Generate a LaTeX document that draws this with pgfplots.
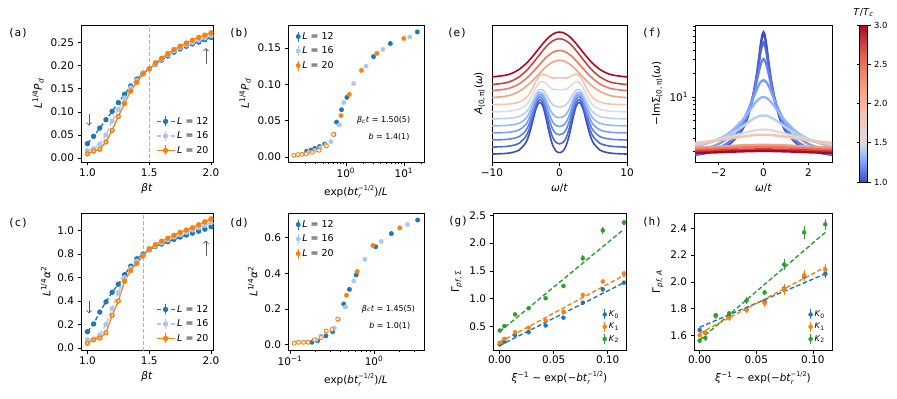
\documentclass[border=0pt]{standalone}
\usepackage{fontspec}
\setmainfont{DejaVu Sans}
\newfontfamily\monofont{DejaVu Sans Mono}
\usepackage{pgfplots}
\usepackage{pgfplotstable}
\pgfplotsset{compat=1.18}
\usetikzlibrary{arrows.meta}
\newcommand{\fs}[1]{\fontsize{#1}{#1}\selectfont}
\newcommand{\btr}{\textit{bt}\makebox[0pt][l]{\raisebox{-0.3em}{\fs{6.5}\textit{r}}}\raisebox{0.5em}{\fs{6.5}−1/2}}
\definecolor{tblue}{HTML}{1F77B4}
\definecolor{tlblue}{HTML}{AEC7E8}
\definecolor{torange}{HTML}{FF7F0E}
\definecolor{tgreen}{HTML}{2CA02C}
\definecolor{cA}{RGB}{59,76,192}
\definecolor{cB}{RGB}{77,104,215}
\definecolor{cC}{RGB}{98,130,234}
\definecolor{cD}{RGB}{122,157,248}
\definecolor{cE}{RGB}{147,181,254}
\definecolor{cF}{RGB}{184,208,249}
\definecolor{cG}{RGB}{221,220,220}
\definecolor{cH}{RGB}{245,196,172}
\definecolor{cI}{RGB}{244,160,130}
\definecolor{cJ}{RGB}{232,120,95}
\definecolor{cK}{RGB}{208,64,58}
\definecolor{cL}{RGB}{180,4,38}
\pgfplotsset{
  colormap={cw}{rgb255(0cm)=(59,76,192) rgb255(1cm)=(90,120,228) rgb255(2cm)=(123,159,249) rgb255(3cm)=(170,199,253) rgb255(4cm)=(221,220,220) rgb255(7cm)=(245,196,172) rgb255(10cm)=(244,154,123) rgb255(13cm)=(222,96,77) rgb255(16cm)=(180,4,38)},
  panel/.style={scale only axis, anchor=north west, tick align=outside, tick pos=left,
    major tick length=3.5bp, minor tick length=2bp,
    every tick/.style={black,line width=0.6bp}, axis line style={line width=0.7bp},
    tick label style={font=\fs{10.5}}, label style={font=\fs{10.5}},
    legend cell align=left,
    legend style={draw=none, fill=none, font=\fs{9.5}, inner sep=1bp, row sep=2bp}},
  errleg/.style={legend image code/.code={%
    \draw[mark repeat=2,mark phase=2,##1] plot coordinates {(0bp,0bp) (9bp,0bp) (18bp,0bp)};
    \draw[##1,solid] (9bp,-5bp) -- (9bp,5bp);}},
  errlegm/.style={legend image code/.code={%
    \draw[##1,solid,line width=1.1bp] (4bp,-5bp) -- (4bp,5bp);
    \draw[##1] plot coordinates {(4bp,0bp)};}},
  ebar/.style={error bars/.cd, y dir=both, y explicit, error mark=none, error bar style={line width=1.1bp}},
  lowlab/.style={xlabel style={yshift=-1bp}, xticklabel style={yshift=1bp}},
}

\pgfplotstableread{
w b1 b2 b3 b4 b5 b6 g ps s ro r dr
-10 7.9 14.8 21.9 28.9 35.9 42.9 49.9 57.0 64.0 71.0 77.0 84.6
-8 8.5 15.4 22.4 29.3 36.3 43.3 50.3 57.4 65.4 72.5 78.7 86.3
-7 9.5 16.4 23.3 30.1 37.0 43.9 51.0 58.1 67.1 74.4 80.9 88.4
-6 11.8 18.5 25.2 31.9 38.5 45.2 52.5 59.5 70.2 77.6 84.6 92.0
-5 19.1 25.2 31.2 37.2 43.1 49.3 56.3 63.4 74.8 82.6 90.3 97.6
-4.5 27.3 32.6 38.0 43.3 48.4 53.8 60.6 67.4 77.7 85.7 93.8 101.0
-4 39.7 44.0 48.2 52.2 56.2 60.5 67.0 73.5 80.9 89.2 97.8 104.9
-3.5 52.6 55.8 58.9 61.8 64.5 67.7 74.0 80.3 84.4 92.9 102.0 109.1
-3 59.3 62.0 64.7 67.0 69.2 72.0 78.7 85.3 87.9 96.7 106.3 113.3
-2.5 56.2 59.5 62.6 65.5 68.2 71.9 80.0 87.3 91.4 100.4 110.6 117.5
-2 43.8 48.5 53.3 57.6 61.9 67.4 78.0 86.6 94.6 103.9 114.6 121.3
-1.5 28.3 34.8 41.4 47.4 53.7 61.4 74.7 84.6 97.4 106.8 117.9 124.6
-1 16.5 24.3 32.4 39.7 47.6 57.0 72.4 83.5 99.5 109.1 120.5 127.1
-0.5 10.8 19.3 28.2 36.2 44.9 55.2 72.0 83.7 100.8 110.5 122.1 128.8
0 9.3 18.0 27.1 35.3 44.1 54.8 72.0 83.9 101.3 111.0 122.7 129.3
0.5 10.8 19.3 28.2 36.2 44.9 55.2 72.0 83.7 100.8 110.5 122.1 128.8
1 16.5 24.3 32.4 39.7 47.6 57.0 72.4 83.5 99.5 109.1 120.5 127.1
1.5 28.3 34.8 41.4 47.4 53.7 61.4 74.7 84.6 97.4 106.8 117.9 124.6
2 43.8 48.5 53.3 57.6 61.9 67.4 78.0 86.6 94.6 103.9 114.6 121.3
2.5 56.2 59.5 62.6 65.5 68.2 71.9 80.0 87.3 91.4 100.4 110.6 117.5
3 59.3 62.0 64.7 67.0 69.2 72.0 78.7 85.3 87.9 96.7 106.3 113.3
3.5 52.6 55.8 58.9 61.8 64.5 67.7 74.0 80.3 84.4 92.9 102.0 109.1
4 39.7 44.0 48.2 52.2 56.2 60.5 67.0 73.5 80.9 89.2 97.8 104.9
4.5 27.3 32.6 38.0 43.3 48.4 53.8 60.6 67.4 77.7 85.7 93.8 101.0
5 19.1 25.2 31.2 37.2 43.1 49.3 56.3 63.4 74.8 82.6 90.3 97.6
6 11.8 18.5 25.2 31.9 38.5 45.2 52.5 59.5 70.2 77.6 84.6 92.0
7 9.5 16.4 23.3 30.1 37.0 43.9 51.0 58.1 67.1 74.4 80.9 88.4
8 8.5 15.4 22.4 29.3 36.3 43.3 50.3 57.4 65.4 72.5 78.7 86.3
10 7.9 14.8 21.9 28.9 35.9 42.9 49.9 57.0 64.0 71.0 77.0 84.6
}\tabE

\pgfplotstableread{
w b1 b2 b3 b4 b5 b6 g ps s ro r dr
-3.2 1.82 1.84 1.87 2.02 2.34 2.42 2.54 2.59 2.26 2.14 2.02 1.92
-3 1.84 1.86 1.89 2.05 2.38 2.45 2.56 2.61 2.27 2.15 2.03 1.93
-2.5 1.94 1.97 2.01 2.22 2.57 2.62 2.68 2.69 2.30 2.175 2.05 1.95
-2 2.13 2.18 2.24 2.52 2.90 2.88 2.84 2.80 2.33 2.20 2.07 1.97
-1.5 2.53 2.62 2.71 3.13 3.52 3.33 3.07 2.94 2.37 2.23 2.10 2.00
-1 3.65 3.83 3.99 4.60 4.82 4.08 3.38 3.10 2.41 2.27 2.12 2.02
-0.75 5.15 5.43 5.59 6.2 5.95 4.59 3.54 3.18 2.43 2.28 2.13 2.03
-0.5 9.1 9.45 9.25 9.0 7.51 5.15 3.69 3.24 2.44 2.29 2.14 2.04
-0.4 12.6 12.8 12.0 10.6 8.21 5.36 3.74 3.26 2.44 2.29 2.14 2.04
-0.3 18.9 18.5 16.05 12.5 8.88 5.54 3.78 3.28 2.45 2.30 2.15 2.05
-0.2 30.9 28.1 21.6 14.4 9.46 5.68 3.81 3.29 2.45 2.30 2.15 2.05
-0.1 51.6 41.7 27.6 15.8 9.86 5.79 3.84 3.30 2.45 2.30 2.15 2.05
0 67.0 50.0 30.5 16.4 10.0 5.8 3.84 3.30 2.45 2.30 2.15 2.05
0.1 51.6 41.7 27.6 15.8 9.86 5.79 3.84 3.30 2.45 2.30 2.15 2.05
0.2 30.9 28.1 21.6 14.4 9.46 5.68 3.81 3.29 2.45 2.30 2.15 2.05
0.3 18.9 18.5 16.05 12.5 8.88 5.54 3.78 3.28 2.45 2.30 2.15 2.05
0.4 12.6 12.8 12.0 10.6 8.21 5.36 3.74 3.26 2.44 2.29 2.14 2.04
0.5 9.1 9.45 9.25 9.0 7.51 5.15 3.69 3.24 2.44 2.29 2.14 2.04
0.75 5.15 5.43 5.59 6.2 5.95 4.59 3.54 3.18 2.43 2.28 2.13 2.03
1 3.65 3.83 3.99 4.60 4.82 4.08 3.38 3.10 2.41 2.27 2.12 2.02
1.5 2.53 2.62 2.71 3.13 3.52 3.33 3.07 2.94 2.37 2.23 2.10 2.00
2 2.13 2.18 2.24 2.52 2.90 2.88 2.84 2.80 2.33 2.20 2.07 1.97
2.5 1.94 1.97 2.01 2.22 2.57 2.62 2.68 2.69 2.30 2.175 2.05 1.95
3 1.84 1.86 1.89 2.05 2.38 2.45 2.56 2.61 2.27 2.15 2.03 1.93
3.2 1.82 1.84 1.87 2.02 2.34 2.42 2.54 2.59 2.26 2.14 2.02 1.92
}\tabF

\begin{document}
\begin{tikzpicture}
\useasboundingbox (0,0) rectangle (897bp,-399bp);

% ---------------- (a)
\begin{axis}[panel, at={(81bp,-25bp)}, width=132bp, height=137bp,
  xmin=0.948, xmax=2.016, ymin=-0.0086, ymax=0.288,
  xtick={1,1.5,2}, xticklabels={1.0,1.5,2.0},
  ytick={0,0.05,0.1,0.15,0.2,0.25}, yticklabels={0.00,0.05,0.10,0.15,0.20,0.25},
  xlabel={\textit{βt}}, ylabel={\textit{L}\textsuperscript{1/4}\textit{P}\textsubscript{\textit{d}}},
  legend style={at={(rel axis cs:0.99,0.03)}, anchor=south east}]
\addplot[forget plot, color=black!30, dash pattern=on 4bp off 2bp, line width=1bp] coordinates {(1.5,-1) (1.5,1)};
\addplot[tblue, line width=1.3bp, dash pattern=on 4.5bp off 2.5bp, mark=*, mark size=2bp, mark options={solid}, errleg] coordinates {
(1.00,.031)(1.05,.047)(1.10,.065)(1.15,.083)(1.20,.101)(1.25,.120)(1.30,.138)(1.35,.156)(1.40,.171)(1.45,.184)(1.50,.193)(1.55,.203)(1.60,.212)(1.65,.221)(1.70,.229)(1.75,.236)(1.80,.242)(1.85,.247)(1.90,.251)(1.95,.256)(2.00,.261)};
\addlegendentry{\textit{L} = 12}
\addplot[tlblue, line width=1.3bp, dash pattern=on 4.5bp off 2.5bp, mark=*, mark size=2bp, mark options={solid}, errleg] coordinates {
(1.00,.016)(1.05,.020)(1.10,.030)(1.15,.050)(1.20,.080)(1.25,.105)(1.30,.130)(1.35,.152)(1.40,.168)(1.45,.183)(1.50,.193)(1.55,.204)(1.60,.214)(1.65,.224)(1.70,.232)(1.75,.239)(1.80,.245)(1.85,.250)(1.90,.255)(1.95,.260)(2.00,.265)};
\addlegendentry{\textit{L} = 16}
\addplot[torange, line width=1.3bp, mark=*, mark size=2bp, errleg] coordinates {
(1.00,.009)(1.05,.015)(1.10,.019)(1.15,.035)(1.20,.060)(1.25,.090)(1.30,.118)(1.35,.145)(1.40,.164)(1.45,.182)(1.50,.193)(1.55,.206)(1.60,.216)(1.65,.226)(1.70,.235)(1.75,.242)(1.80,.249)(1.85,.255)(1.90,.261)(1.95,.266)(2.00,.271)};
\addlegendentry{\textit{L} = 20}
\addplot[forget plot, only marks, mark=*, mark size=1.9bp, mark options={draw=torange, fill=white, line width=0.9bp}] coordinates {
(1.00,.009)(1.05,.015)(1.10,.019)(1.15,.035)(1.20,.060)(1.25,.090)};
\draw[-{Straight Barb[length=2.5bp]}, black!65, line width=0.7bp] (axis cs:1.013,0.095) -- (axis cs:1.013,0.070);
\draw[-{Straight Barb[length=2.5bp]}, black!65, line width=0.7bp] (axis cs:1.96,0.204) -- (axis cs:1.96,0.238);
\end{axis}

% ---------------- (b)
\begin{axis}[panel, lowlab, xmode=log, at={(288bp,-25bp)}, width=136bp, height=137bp,
  xmin=0.1, xmax=22.3, ymin=-0.0069, ymax=0.1815,
  xtick={1,10}, xticklabels={10\textsuperscript{0},10\textsuperscript{1}},
  minor xtick={0.2,0.3,0.4,0.5,0.6,0.7,0.8,0.9,2,3,4,5,6,7,8,9,20},
  ytick={0,0.05,0.1,0.15}, yticklabels={0.00,0.05,0.10,0.15},
  xlabel={exp(\btr)/\textit{L}}, ylabel={\textit{L}\textsuperscript{1/4}\textit{P}\textsubscript{\textit{d}}},
  legend style={at={(rel axis cs:0.05,0.97)}, anchor=north west}]
\addplot[tblue, only marks, mark=*, mark size=2.2bp, errlegm] coordinates {
(0.21,.0080)(0.25,.0095)(0.29,.0118)(0.35,.0145)(0.43,.0178)(0.62,.031)(0.69,.048)(0.84,.065)(1.04,.082)(3.0,.138)(5.85,.156)(17.1,.172)};
\addlegendentry{\textit{L} = 12}
\addplot[tlblue, only marks, mark=*, mark size=2.2bp, errlegm] coordinates {
(0.23,.0065)(0.29,.009)(0.36,.0125)(0.45,.0165)(0.55,.021)(0.77,.044)(0.92,.075)(1.36,.101)(2.23,.125)(4.36,.148)(12.7,.165)};
\addlegendentry{\textit{L} = 16}
\addplot[torange, only marks, mark=*, mark size=2.2bp, errlegm] coordinates {
(0.82,.057)(1.14,.086)(1.85,.119)(3.43,.1426)(10.0,.163)};
\addlegendentry{\textit{L} = 20}
\addplot[forget plot, only marks, mark=*, mark size=2bp, mark options={draw=torange, fill=white, line width=0.9bp}] coordinates {
(0.126,.0023)(0.148,.0032)(0.173,.0037)(0.206,.0042)(0.262,.0065)(0.343,.0093)(0.46,.0153)(0.61,.031)};
\node[font=\fs{8}] at (axis cs:4.48,0.0505) {\textit{β}\textsubscript{\textit{c}}\textit{t} = 1.50(5)};
\node[font=\fs{8}] at (axis cs:5.55,0.0273) {\textit{b} = 1.4(1)};
\end{axis}

% ---------------- (e)
\begin{axis}[panel, at={(492bp,-25bp)}, width=135bp, height=137bp,
  xmin=-10, xmax=10, ymin=0, ymax=136.3, ytick=\empty,
  xtick={-10,0,10}, xticklabels={−10,0,10},
  xlabel={\textit{ω}/\textit{t}}, ylabel={\textit{A}\textsubscript{(0,\,π)}(\textit{ω})}]
\addplot[cA, line width=1.6bp, smooth] table[x=w,y=b1]{\tabE};
\addplot[cB, line width=1.6bp, smooth] table[x=w,y=b2]{\tabE};
\addplot[cC, line width=1.6bp, smooth] table[x=w,y=b3]{\tabE};
\addplot[cD, line width=1.6bp, smooth] table[x=w,y=b4]{\tabE};
\addplot[cE, line width=1.6bp, smooth] table[x=w,y=b5]{\tabE};
\addplot[cF, line width=1.6bp, smooth] table[x=w,y=b6]{\tabE};
\addplot[cG, line width=1.6bp, smooth] table[x=w,y=g]{\tabE};
\addplot[cH, line width=1.6bp, smooth] table[x=w,y=ps]{\tabE};
\addplot[cI, line width=1.6bp, smooth] table[x=w,y=s]{\tabE};
\addplot[cJ, line width=1.6bp, smooth] table[x=w,y=ro]{\tabE};
\addplot[cK, line width=1.6bp, smooth] table[x=w,y=r]{\tabE};
\addplot[cL, line width=1.6bp, smooth] table[x=w,y=dr]{\tabE};
\end{axis}

% ---------------- (f)
\begin{axis}[panel, ymode=log, at={(695bp,-25bp)}, width=137bp, height=137bp,
  xmin=-3.05, xmax=3.05, ymin=1.48, ymax=83,
  xtick={-2,0,2}, xticklabels={−2,0,2},
  ytick={10}, yticklabels={10\textsuperscript{1}},
  minor ytick={2,3,4,5,6,7,8,9,20,30,40,50,60,70,80},
  xlabel={\textit{ω}/\textit{t}}, ylabel={−ImΣ\textsubscript{(0,\,π)}(\textit{ω})},
  colormap name=cw, colorbar, point meta min=1, point meta max=3,
  colorbar style={at={(parent axis.north east)}, anchor=north west, xshift=19bp,
    scale only axis, width=8bp, height=157bp,
    ytick={1,1.5,2,2.5,3}, yticklabels={1.0,1.5,2.0,2.5,3.0},
    tick align=outside, major tick length=3bp,
    every tick/.style={black,line width=0.6bp}, axis line style={line width=0.6bp},
    tick label style={font=\fs{8.5}},
    title={\textit{T}/\textit{T}\textsubscript{\textit{c}}}, title style={font=\fs{9.5}, yshift=-1bp}}]
\addplot[cA, line width=2.4bp, smooth] table[x=w,y=b1]{\tabF};
\addplot[cB, line width=2.4bp, smooth] table[x=w,y=b2]{\tabF};
\addplot[cC, line width=2.4bp, smooth] table[x=w,y=b3]{\tabF};
\addplot[cD, line width=2.4bp, smooth] table[x=w,y=b4]{\tabF};
\addplot[cE, line width=2.4bp, smooth] table[x=w,y=b5]{\tabF};
\addplot[cF, line width=2.4bp, smooth] table[x=w,y=b6]{\tabF};
\addplot[cG, line width=2.4bp, smooth] table[x=w,y=g]{\tabF};
\addplot[cH, line width=2.4bp, smooth] table[x=w,y=ps]{\tabF};
\addplot[cI, line width=2.4bp, smooth] table[x=w,y=s]{\tabF};
\addplot[cJ, line width=2.4bp, smooth] table[x=w,y=ro]{\tabF};
\addplot[cK, line width=2.4bp, smooth] table[x=w,y=r]{\tabF};
\addplot[cL, line width=2.4bp, smooth] table[x=w,y=dr]{\tabF};
\end{axis}

% ---------------- (c)
\begin{axis}[panel, at={(81bp,-213bp)}, width=132bp, height=137bp,
  xmin=0.948, xmax=2.016, ymin=-0.0173, ymax=1.150,
  xtick={1,1.5,2}, xticklabels={1.0,1.5,2.0},
  ytick={0,0.2,0.4,0.6,0.8,1}, yticklabels={0.0,0.2,0.4,0.6,0.8,1.0},
  xlabel={\textit{βt}}, ylabel={\textit{L}\textsuperscript{1/4}\textit{α}\textsuperscript{2}},
  legend style={at={(rel axis cs:0.99,0.03)}, anchor=south east}]
\addplot[forget plot, color=black!30, dash pattern=on 4bp off 2bp, line width=1bp] coordinates {(1.45,-1) (1.45,2)};
\addplot[tblue, line width=1.3bp, dash pattern=on 4.5bp off 2.5bp, mark=*, mark size=2bp, mark options={solid}, errleg] coordinates {
(1.00,.139)(1.05,.205)(1.10,.306)(1.15,.393)(1.20,.474)(1.25,.543)(1.30,.624)(1.35,.697)(1.40,.760)(1.45,.800)(1.50,.835)(1.55,.865)(1.60,.885)(1.65,.905)(1.70,.925)(1.75,.945)(1.80,.962)(1.85,.978)(1.90,.995)(1.95,1.012)(2.00,1.033)};
\addlegendentry{\textit{L} = 12}
\addplot[tlblue, line width=1.3bp, dash pattern=on 4.5bp off 2.5bp, mark=*, mark size=2bp, mark options={solid}, errleg] coordinates {
(1.00,.070)(1.05,.075)(1.10,.110)(1.15,.200)(1.20,.335)(1.25,.470)(1.30,.600)(1.35,.680)(1.40,.740)(1.45,.790)(1.50,.840)(1.55,.870)(1.60,.895)(1.65,.920)(1.70,.945)(1.75,.965)(1.80,.985)(1.85,1.005)(1.90,1.025)(1.95,1.045)(2.00,1.065)};
\addlegendentry{\textit{L} = 16}
\addplot[torange, line width=1.3bp, mark=*, mark size=2bp, errleg] coordinates {
(1.00,.040)(1.05,.070)(1.10,.085)(1.15,.130)(1.20,.277)(1.25,.400)(1.30,.570)(1.35,.660)(1.40,.720)(1.45,.785)(1.50,.845)(1.55,.880)(1.60,.910)(1.65,.935)(1.70,.960)(1.75,.985)(1.80,1.005)(1.85,1.025)(1.90,1.050)(1.95,1.075)(2.00,1.100)};
\addlegendentry{\textit{L} = 20}
\addplot[forget plot, only marks, mark=*, mark size=1.9bp, mark options={draw=torange, fill=white, line width=0.9bp}] coordinates {
(1.00,.040)(1.05,.070)(1.10,.085)(1.15,.130)(1.20,.277)(1.25,.400)};
\draw[-{Straight Barb[length=2.5bp]}, black!65, line width=0.7bp] (axis cs:1.013,0.40) -- (axis cs:1.013,0.295);
\draw[-{Straight Barb[length=2.5bp]}, black!65, line width=0.7bp] (axis cs:1.96,0.78) -- (axis cs:1.96,0.915);
\end{axis}

% ---------------- (d)
\begin{axis}[panel, lowlab, xmode=log, at={(288bp,-213bp)}, width=136bp, height=137bp,
  xmin=0.0946, xmax=3.94, ymin=-0.0304, ymax=0.7386,
  xtick={0.1,1}, xticklabels={10\textsuperscript{−1},10\textsuperscript{0}},
  minor xtick={0.2,0.3,0.4,0.5,0.6,0.7,0.8,0.9,2,3},
  ytick={0,0.2,0.4,0.6}, yticklabels={0.0,0.2,0.4,0.6},
  xlabel={exp(\btr)/\textit{L}}, ylabel={\textit{L}\textsuperscript{1/4}\textit{α}\textsuperscript{2}},
  legend style={at={(rel axis cs:0.05,0.97)}, anchor=north west}]
\addplot[tblue, only marks, mark=*, mark size=2.2bp, errlegm] coordinates {
(0.182,.013)(0.213,.021)(0.268,.049)(0.322,.072)(0.436,.228)(0.51,.31)(0.614,.391)(1.05,.549)(1.61,.623)(3.31,.699)};
\addlegendentry{\textit{L} = 12}
\addplot[tlblue, only marks, mark=*, mark size=2.2bp, errlegm] coordinates {
(0.203,.027)(0.233,.049)(0.337,.093)(0.377,.140)(0.457,.211)(0.575,.357)(0.78,.478)(1.22,.579)(2.51,.674)};
\addlegendentry{\textit{L} = 16}
\addplot[torange, only marks, mark=*, mark size=2.2bp, errlegm] coordinates {
(0.47,.277)(0.63,.41)(0.97,.556)(2.03,.655)};
\addlegendentry{\textit{L} = 20}
\addplot[forget plot, only marks, mark=*, mark size=2bp, mark options={draw=torange, fill=white, line width=0.9bp}] coordinates {
(0.112,.0076)(0.126,.013)(0.145,.013)(0.164,.013)(0.194,.027)(0.236,.040)(0.27,.076)(0.316,.085)(0.37,.144)};
\node[font=\fs{8}] at (axis cs:1.486,0.201) {\textit{β}\textsubscript{\textit{c}}\textit{t} = 1.45(5)};
\node[font=\fs{8}] at (axis cs:1.54,0.106) {\textit{b} = 1.0(1)};
\end{axis}

% ---------------- (g)
\begin{axis}[panel, lowlab, at={(493bp,-213bp)}, width=133bp, height=137bp,
  xmin=-0.0062, xmax=0.1169, ymin=0.0796, ymax=2.542,
  xtick={0,0.05,0.1}, xticklabels={0.00,0.05,0.10},
  ytick={0.5,1,1.5,2,2.5}, yticklabels={0.5,1.0,1.5,2.0,2.5},
  xlabel={\textit{ξ}\textsuperscript{−1} ∼ exp(−\btr)}, ylabel={Γ\textsubscript{\textit{pf}, Σ}},
  legend style={at={(rel axis cs:0.97,0.03)}, anchor=south east, font=\fs{8}, row sep=1bp}]
\addplot[tblue, only marks, mark=*, mark size=2bp, errlegm, ebar] coordinates {
(0,.18)+-(0,.02) (0.0043,.23)+-(0,.02) (0.0142,.35)+-(0,.02) (0.0268,.40)+-(0,.025) (0.0425,.52)+-(0,.03) (0.059,.66)+-(0,.03) (0.077,.93)+-(0,.03) (0.0954,1.17)+-(0,.04) (0.115,1.29)+-(0,.03)};
\addlegendentry{\textit{K}\textsubscript{0}}
\addplot[forget plot, tblue, line width=1.4bp, dash pattern=on 4.5bp off 2.5bp] coordinates {(0,0.16) (0.115,1.29)};
\addplot[torange, only marks, mark=*, mark size=2bp, errlegm, ebar] coordinates {
(0,.21)+-(0,.02) (0.0043,.28)+-(0,.02) (0.0142,.40)+-(0,.03) (0.0268,.48)+-(0,.03) (0.0425,.61)+-(0,.03) (0.059,.77)+-(0,.03) (0.077,1.07)+-(0,.04) (0.0954,1.31)+-(0,.04) (0.115,1.45)+-(0,.05)};
\addlegendentry{\textit{K}\textsubscript{1}}
\addplot[forget plot, torange, line width=1.4bp, dash pattern=on 4.5bp off 2.5bp] coordinates {(0,0.22) (0.115,1.42)};
\addplot[tgreen, only marks, mark=*, mark size=2bp, errlegm, ebar] coordinates {
(0,.43)+-(0,.02) (0.0043,.51)+-(0,.03) (0.0142,.72)+-(0,.03) (0.0268,.83)+-(0,.03) (0.0425,1.01)+-(0,.03) (0.059,1.23)+-(0,.03) (0.077,1.73)+-(0,.05) (0.0954,2.23)+-(0,.06) (0.115,2.37)+-(0,.04)};
\addlegendentry{\textit{K}\textsubscript{2}}
\addplot[forget plot, tgreen, line width=1.4bp, dash pattern=on 4.5bp off 2.5bp] coordinates {(0,0.41) (0.115,2.25)};
\end{axis}

% ---------------- (h)
\begin{axis}[panel, lowlab, at={(694bp,-213bp)}, width=138bp, height=137bp,
  xmin=-0.005, xmax=0.1169, ymin=1.49, ymax=2.515,
  xtick={0,0.05,0.1}, xticklabels={0.00,0.05,0.10},
  ytick={1.6,1.8,2,2.2,2.4}, yticklabels={1.6,1.8,2.0,2.2,2.4},
  xlabel={\textit{ξ}\textsuperscript{−1} ∼ exp(−\btr)}, ylabel={Γ\textsubscript{\textit{pf}, \textit{A}}},
  legend style={at={(rel axis cs:0.97,0.03)}, anchor=south east, font=\fs{8}, row sep=1bp}]
\addplot[tblue, only marks, mark=*, mark size=2bp, errlegm, ebar] coordinates {
(0,1.64)+-(0,.015) (0.005,1.62)+-(0,.015) (0.0142,1.745)+-(0,.02) (0.026,1.75)+-(0,.02) (0.0414,1.795)+-(0,.02) (0.0574,1.85)+-(0,.02) (0.0746,1.95)+-(0,.03) (0.0923,2.04)+-(0,.03) (0.111,2.06)+-(0,.03)};
\addlegendentry{\textit{K}\textsubscript{0}}
\addplot[forget plot, tblue, line width=1.4bp, dash pattern=on 4.5bp off 2.5bp] coordinates {(0,1.66) (0.111,2.06)};
\addplot[torange, only marks, mark=*, mark size=2bp, errlegm, ebar] coordinates {
(0,1.60)+-(0,.015) (0.005,1.62)+-(0,.02) (0.0142,1.745)+-(0,.02) (0.026,1.73)+-(0,.025) (0.0414,1.79)+-(0,.025) (0.0574,1.84)+-(0,.03) (0.0746,1.945)+-(0,.04) (0.0923,2.05)+-(0,.04) (0.111,2.09)+-(0,.04)};
\addlegendentry{\textit{K}\textsubscript{1}}
\addplot[forget plot, torange, line width=1.4bp, dash pattern=on 4.5bp off 2.5bp] coordinates {(0,1.615) (0.111,2.11)};
\addplot[tgreen, only marks, mark=*, mark size=2bp, errlegm, ebar] coordinates {
(0,1.56)+-(0,.015) (0.005,1.58)+-(0,.02) (0.0142,1.75)+-(0,.02) (0.026,1.765)+-(0,.02) (0.0414,1.86)+-(0,.025) (0.0574,1.92)+-(0,.02) (0.0746,2.13)+-(0,.04) (0.0923,2.37)+-(0,.05) (0.111,2.43)+-(0,.04)};
\addlegendentry{\textit{K}\textsubscript{2}}
\addplot[forget plot, tgreen, line width=1.4bp, dash pattern=on 4.5bp off 2.5bp] coordinates {(0,1.565) (0.111,2.37)};
\end{axis}

% panel labels
\node[font=\monofont\fs{11}] at (18bp,-33bp) {(a)};
\node[font=\monofont\fs{11}] at (239bp,-33bp) {(b)};
\node[font=\monofont\fs{11}] at (457bp,-33bp) {(e)};
\node[font=\monofont\fs{11}] at (652bp,-33bp) {(f)};
\node[font=\monofont\fs{11}] at (18bp,-223bp) {(c)};
\node[font=\monofont\fs{11}] at (239bp,-223bp) {(d)};
\node[font=\monofont\fs{11}] at (458bp,-222bp) {(g)};
\node[font=\monofont\fs{11}] at (652bp,-222bp) {(h)};
\end{tikzpicture}
\end{document}
